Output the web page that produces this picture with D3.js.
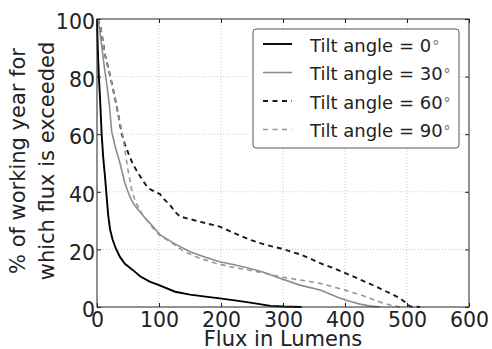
<!DOCTYPE html>
<html>
<head>
<meta charset="utf-8">
<script src="https://cdn.jsdelivr.net/npm/d3@7"></script>
<style>
  body { margin: 0; background: #fff; }
  text { font-family: "DejaVu Sans", sans-serif; fill: #222; }
</style>
</head>
<body>
<svg id="chart"></svg>
<script>
// flux (lumens) vs % of working year exceeded
var tilt0 = [[0,100],[1.5,88],[3,80],[5,72],[7.5,60],[10,52],[13,45],[15.5,38.5],[18,32],[21,27],[25,23.5],[30,20.5],[37,17.4],[45,15],[58,12.8],[70,10.6],[85,8.8],[100,7.6],[126,5.3],[150,4.3],[175,3.6],[198,3],[225,2.2],[247,1.5],[265,0.9],[280,0.4],[300,0.15],[330,0]];
var tilt30 = [[0,100],[2,99],[3.7,97],[8,90],[12,83],[16,77],[20,70],[23.7,61],[29,56],[33,53],[37,50],[45,43],[53,38.3],[60,35.5],[75,31.5],[90,28],[102,25],[125,22],[150,19.2],[175,17.3],[198,15.7],[225,14.5],[247,13.4],[270,12],[295,10],[327,7.6],[360,5.9],[392,3],[410,1.8],[424,1],[440,0.4],[456,0]];
var tilt60 = [[0,100],[2,99.5],[5,98],[9,93],[13,87.5],[17,84],[21,80.5],[25,76.5],[29,72.5],[35,66],[40,60],[45,56.5],[50.5,53.4],[58,49.5],[66.6,46.4],[75,43.5],[83,41.2],[92,40.2],[101.6,39.2],[110,37],[118,35.4],[126,33],[134,31.4],[145,30.8],[166,29.6],[198,27.9],[225,25.3],[247,23.3],[270,21.7],[295,20.4],[312,19.3],[327,18.3],[345,16.7],[360,15.2],[385,13.2],[408,11.1],[430,9],[456,6.5],[475,4.5],[489,3],[498,1.5],[505,0.2],[521,0]];
var tilt90 = [[0,100],[2,99.5],[5,98],[9,93],[13,87.5],[17,84],[21,80.5],[25,76.5],[29,72.5],[35,66],[42,59],[46,53],[50,47.6],[56,40.6],[62,36.5],[75,31.5],[90,27.5],[102,24.7],[118,22.7],[140,19.3],[166,16.9],[190,15.3],[214,14],[240,13],[265,12],[295,10.5],[327,9.4],[360,8.2],[385,6.8],[408,5.3],[425,4.2],[440,3],[458,1.6],[473,0.7],[489,0]];

var seriesNames = ["Tilt angle = 0", "Tilt angle = 30", "Tilt angle = 60", "Tilt angle = 90"];
var seriesData = [tilt0, tilt30, tilt60, tilt90];
var xTicks = [0, 100, 200, 300, 400, 500, 600];
var yTicks = [0, 20, 40, 60, 80, 100];

var W = 492, H = 349;
var margin = { top: 19, right: 23, bottom: 42, left: 97 };
var width = W - margin.left - margin.right,
    height = H - margin.top - margin.bottom;

var styles = [
  { color: "#000", w: 1.9, dash: null },
  { color: "#8c8c8c", w: 1.6, dash: null },
  { color: "#1a1a1a", w: 1.9, dash: "5,4" },
  { color: "#969696", w: 1.6, dash: "5,4" }
];

var svg = d3.select("#chart").attr("width", W).attr("height", H);
var g = svg.append("g").attr("transform", "translate(" + margin.left + "," + margin.top + ")");

var x = d3.scaleLinear().domain([0, 600]).range([0, width]),
    y = d3.scaleLinear().domain([0, 100]).range([height, 0]);

// grid
g.append("g").selectAll("line").data(xTicks.slice(1, -1)).enter().append("line")
  .attr("x1", d => x(d)).attr("x2", d => x(d)).attr("y1", 0).attr("y2", height)
  .attr("stroke", "#c8c8c8").attr("stroke-dasharray", "1,2");
g.append("g").selectAll("line").data(yTicks.slice(1, -1)).enter().append("line")
  .attr("y1", d => y(d)).attr("y2", d => y(d)).attr("x1", 0).attr("x2", width)
  .attr("stroke", "#c8c8c8").attr("stroke-dasharray", "1,2");

var line = d3.line().x(d => x(d[0])).y(d => y(d[1]));

g.append("g").selectAll("path").data(seriesData).enter().append("path")
  .attr("d", d => line(d))
  .attr("fill", "none")
  .attr("stroke", (d, i) => styles[i].color)
  .attr("stroke-width", (d, i) => styles[i].w)
  .attr("stroke-dasharray", (d, i) => styles[i].dash);

// axes: inward ticks on all sides
function styleAxis(sel) {
  sel.select(".domain").remove();
  sel.selectAll(".tick line").attr("stroke", "#222");
  sel.selectAll(".tick text").style("font-size", "20.5px").attr("fill", "#222");
}
g.append("g").attr("transform", "translate(0," + height + ")")
  .call(d3.axisBottom(x).tickValues(xTicks).tickSizeInner(-4).tickSizeOuter(0).tickPadding(5))
  .call(styleAxis);
g.append("g")
  .call(d3.axisLeft(y).tickValues(yTicks).tickSizeInner(-4).tickSizeOuter(0).tickPadding(2))
  .call(styleAxis)
  .selectAll(".tick text").attr("dy", "0.47em");
g.append("g")
  .call(d3.axisTop(x).tickValues(xTicks).tickSizeInner(-4).tickSizeOuter(0).tickFormat(""))
  .call(styleAxis);
g.append("g").attr("transform", "translate(" + width + ",0)")
  .call(d3.axisRight(y).tickValues(yTicks).tickSizeInner(-4).tickSizeOuter(0).tickFormat(""))
  .call(styleAxis);

g.append("rect").attr("width", width).attr("height", height)
  .attr("fill", "none").attr("stroke", "#222").attr("stroke-width", 1);

// labels
svg.append("text").attr("x", margin.left + width / 2).attr("y", 345.5)
  .attr("text-anchor", "middle").style("font-size", "21px").text("Flux in Lumens");
var yl = svg.append("text").attr("transform", "translate(0,161) rotate(-90)")
  .attr("text-anchor", "middle").style("font-size", "21px");
yl.append("tspan").attr("x", 0).attr("y", 25).text("% of working year for");
yl.append("tspan").attr("x", 0).attr("y", 54).text("which flux is exceeded");

// legend
var lg = svg.append("g").attr("transform", "translate(253,29)");
lg.append("rect").attr("width", 206).attr("height", 119).attr("rx", 3)
  .attr("fill", "#fff").attr("stroke", "#555").attr("stroke-width", 1);
var items = lg.selectAll(".item").data(seriesNames).enter().append("g")
  .attr("transform", (d, i) => "translate(0," + (22.7 + i * 28.5) + ")");
items.append("line").attr("x1", 10).attr("x2", 39).attr("y1", -7.7).attr("y2", -7.7)
  .attr("stroke", (d, i) => styles[i].color)
  .attr("stroke-width", (d, i) => styles[i].w)
  .attr("stroke-dasharray", (d, i) => styles[i].dash ? "5,4.5" : null);
var t = items.append("text").attr("x", 57).attr("y", 0).style("font-size", "18px");
t.append("tspan").text(d => d);
t.append("tspan").attr("dx", 1).attr("dy", -1).style("font-size", "14px").attr("fill", "#777").text("\u00b0");
</script>
</body>
</html>
